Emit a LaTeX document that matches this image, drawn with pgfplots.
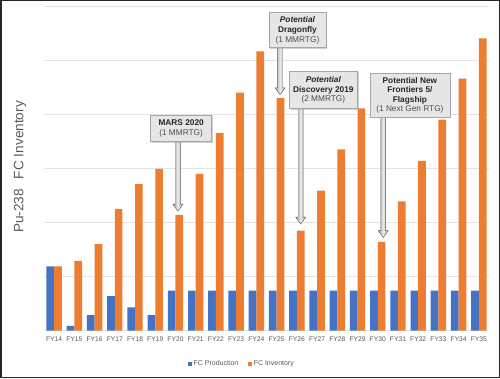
\documentclass[border=0pt]{standalone}
\usepackage{pgfplots}
\pgfplotsset{compat=1.18}
\usepackage{fontspec}
\setmainfont{Liberation Sans}
\usetikzlibrary{calc,shadows}
\definecolor{cblue}{HTML}{4472C4}
\definecolor{corange}{HTML}{ED7D31}
\definecolor{txtgray}{HTML}{595959}
\definecolor{gridgray}{HTML}{E3E3E3}
\definecolor{boxfill}{HTML}{E6E6E6}
\definecolor{boxdraw}{HTML}{A6A6A6}

\pgfplotstableread{
x cat prod inv
0 FY14 1.19 1.19
1 FY15 0.09 1.29
2 FY16 0.29 1.60
3 FY17 0.64 2.25
4 FY18 0.43 2.71
5 FY19 0.29 2.99
6 FY20 0.74 2.14
7 FY21 0.74 2.90
8 FY22 0.74 3.65
9 FY23 0.74 4.40
10 FY24 0.74 5.16
11 FY25 0.74 4.30
12 FY26 0.74 1.85
13 FY27 0.74 2.59
14 FY28 0.74 3.35
15 FY29 0.74 4.11
16 FY30 0.74 1.64
17 FY31 0.74 2.39
18 FY32 0.74 3.14
19 FY33 0.74 3.90
20 FY34 0.74 4.66
21 FY35 0.74 5.40
}\datatable

\tikzset{
  callout/.style={draw=boxdraw, fill=boxfill, line width=0.8pt, align=center,
    inner sep=2.5pt, font=\fontsize{8.3}{9.6}\selectfont\bfseries, text=black!85,
    drop shadow={shadow xshift=1.2pt, shadow yshift=-1.2pt, fill=black!35}},
}
\newcommand{\sub}[1]{{\mdseries\color{black!70}#1}}
% arrow at x=#1 from y=#2 down to y=#3 (axis units)
\newcommand{\callarrow}[3]{%
  \shade[left color=gray!75, right color=gray!75, middle color=gray!15, draw=gray!70!black, line width=0.4pt]
    ($(axis cs:#1,#2)+(-2.4pt,0pt)$) -- ($(axis cs:#1,#3)+(-2.4pt,7pt)$) -- ($(axis cs:#1,#3)+(-5pt,7pt)$) -- (axis cs:#1,#3)
    -- ($(axis cs:#1,#3)+(5pt,7pt)$) -- ($(axis cs:#1,#3)+(2.4pt,7pt)$) -- ($(axis cs:#1,#2)+(2.4pt,0pt)$) -- cycle;
}

\begin{document}
\begin{tikzpicture}[x=1pt,y=1pt]
\path[use as bounding box] (0,0) rectangle (500,378);
\draw[black!85, line width=1.5pt] (0.75,0.75) rectangle (499.25,377.25);
\node[rotate=90, font=\fontsize{13.6}{15}\selectfont, text=txtgray] at (20,211)
  {Pu-238\hspace{10pt}FC Inventory};
\begin{axis}[
  at={(44pt,47.3pt)}, anchor=south west,
  scale only axis, width=445pt, height=324.7pt,
  xmin=-0.5, xmax=21.5, ymin=0, ymax=6,
  ybar=0pt, bar width=7.7pt,
  axis line style={draw=none},
  major tick length=0pt,
  xtick=data,
  xticklabels from table={\datatable}{cat},
  xticklabel style={font=\fontsize{6.7}{8}\selectfont, text=txtgray, yshift=-2.5pt},
  ytick={0,1,2,3,4,5,6}, yticklabels={},
  ymajorgrids, grid style={gridgray, line width=0.9pt},
  legend style={at={(0.445,-0.103)}, anchor=center, draw=none, fill=none,
    font=\fontsize{7}{8}\selectfont, text=txtgray, legend columns=2,
    /tikz/every even column/.append style={column sep=8pt}},
  legend image code/.code={\fill[#1] (0pt,-1.6pt) rectangle (3.4pt,1.8pt);},
  legend cell align=left,
  clip=false,
]
\addplot[fill=cblue, draw=none] table[x=x, y=prod] {\datatable};
\addplot[fill=corange, draw=none] table[x=x, y=inv] {\datatable};
\legend{FC Production, FC Inventory}

\callarrow{6.12}{3.49}{2.21}
\callarrow{11.17}{5.23}{4.36}
\callarrow{12.19}{4.11}{1.97}
\callarrow{16.27}{3.94}{1.72}

\node[callout, minimum width=61pt, minimum height=26.7pt] at (axis cs:6.28,3.74)
  {MARS 2020\\\sub{(1 MMRTG)}};
\node[callout, minimum width=57pt, minimum height=35pt] at (axis cs:12.03,5.55)
  {\itshape Potential\\Dragonfly\\\sub{(1 MMRTG)}};
\node[callout, minimum width=68pt, minimum height=37.3pt] at (axis cs:13.31,4.45)
  {\itshape Potential\\Discovery 2019\\\sub{(2 MMRTG)}};
\node[callout, minimum width=80pt, minimum height=44pt] at (axis cs:17.59,4.35)
  {Potential New\\Frontiers 5/\\Flagship\\\sub{(1 Next Gen RTG)}};
\end{axis}
\end{tikzpicture}
\end{document}
